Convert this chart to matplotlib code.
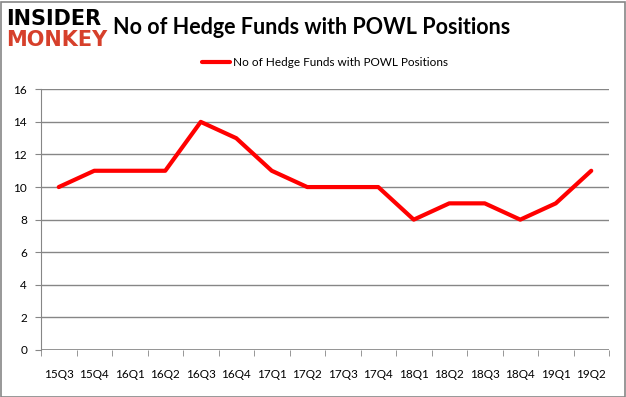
import numpy as np
import matplotlib.pyplot as plt

quarters = ['15Q3', '15Q4', '16Q1', '16Q2', '16Q3', '16Q4', '17Q1', '17Q2',
            '17Q3', '17Q4', '18Q1', '18Q2', '18Q3', '18Q4', '19Q1', '19Q2']
funds = [10, 11, 11, 11, 14, 13, 11, 10, 10, 10, 8, 9, 9, 8, 9, 11]
series_name = 'No of Hedge Funds with POWL Positions'

W, H = 626, 397
fig = plt.figure(figsize=(W / 100, H / 100), dpi=100)
ax = fig.add_axes([41 / W, 1 - 350 / H, (609 - 41) / W, (350 - 89.3) / H])

x = np.arange(len(quarters))
ax.plot(x, funds, color='#ff0000', lw=3, solid_capstyle='round',
        solid_joinstyle='round', label=series_name)

ax.set_xlim(-0.5, len(quarters) - 0.5)
ax.set_ylim(0, 16)
ax.set_yticks(range(0, 17, 2))
ax.grid(axis='y', color='#868686', lw=1)
ax.set_axisbelow(True)
for s in ['top', 'right', 'bottom']:
    ax.spines[s].set_visible(False)
ax.spines['left'].set_color('#868686')
ax.axhline(0, color='#868686', lw=1.2)

ax.set_xticks(x)
ax.set_xticklabels(quarters, fontsize=8.5, family='Lato')
ax.tick_params(axis='x', length=0, pad=14)
ax.set_xticks(np.arange(-0.5, len(quarters)), minor=True)
ax.tick_params(axis='x', which='minor', length=4, color='#868686')
ax.tick_params(axis='y', length=4, color='#868686', labelsize=8.5, pad=6)
for t in ax.get_yticklabels():
    t.set_family('Lato')

ax.legend(loc='lower center', bbox_to_anchor=(0.5, 1.04), frameon=False,
          prop={'family': 'Lato', 'size': 8.5}, handlelength=2.4,
          handletextpad=0.2)

fig.text(113 / W, 1 - 27 / H, 'No of Hedge Funds with POWL Positions',
         fontsize=15.5, fontweight='bold', family='Lato', va='center')
fig.text(6 / W, 1 - 19 / H, 'INSIDER', fontsize=15, fontweight='heavy',
         family='DejaVu Sans', color='black', va='center')
fig.text(6 / W, 1 - 40 / H, 'MONKEY', fontsize=15, fontweight='heavy',
         family='DejaVu Sans', color='#d6402b', va='center')

fig.patches.append(plt.Rectangle((0.5 / W, 0.5 / H), 1 - 2 / W, 1 - 2 / H,
                                 transform=fig.transFigure, fill=False,
                                 edgecolor='#868686', lw=1.2))

fig.savefig('out.png', dpi=100)
